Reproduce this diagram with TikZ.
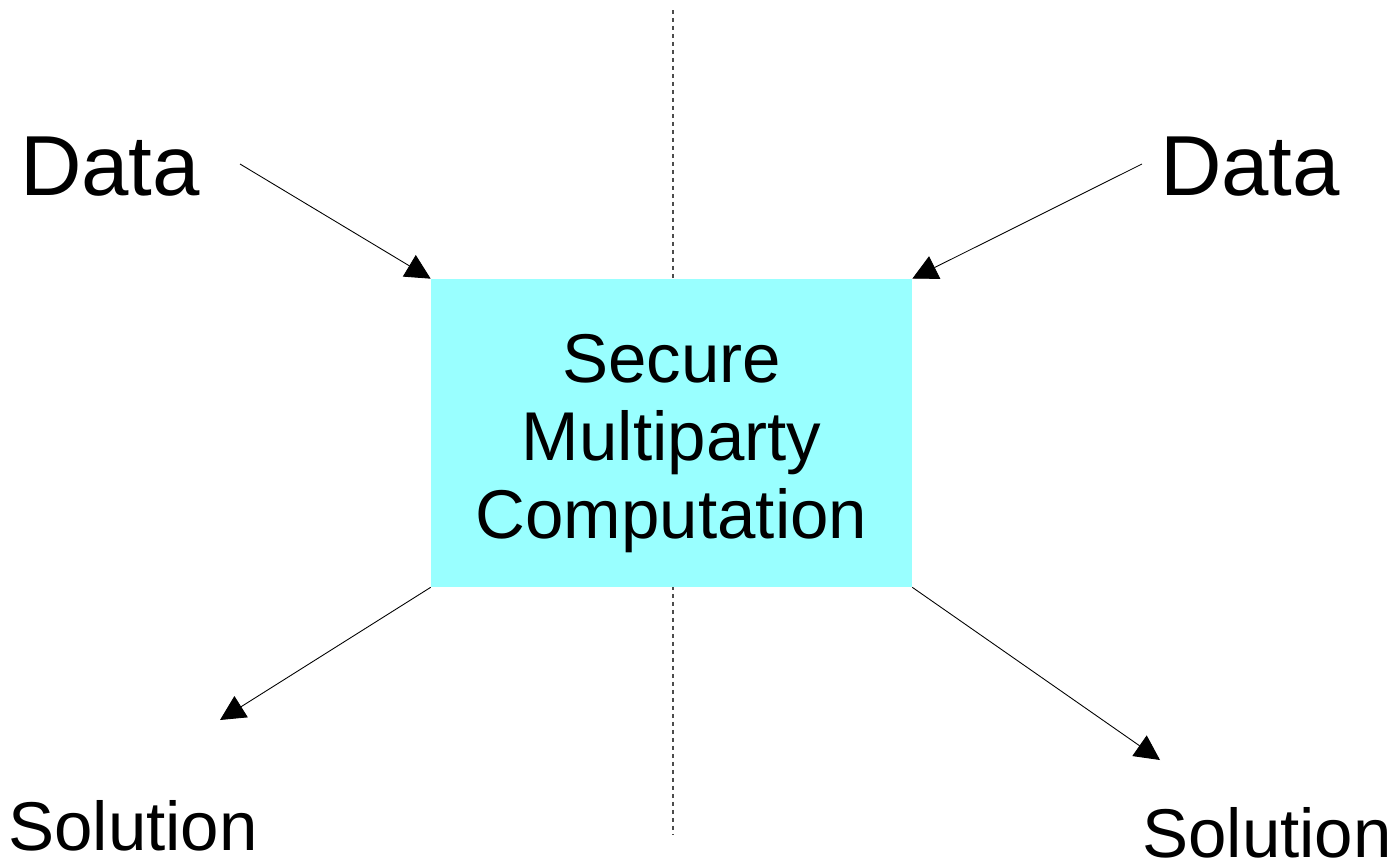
\documentclass[tikz,border=0pt]{standalone}
\usepackage{fontspec}
\setmainfont{Liberation Sans}
\usetikzlibrary{arrows.meta}

\tikzset{
  bigword/.style={font=\fontsize{48.5}{52}\selectfont, inner sep=0pt},
  outword/.style={font=\fontsize{39.3}{44}\selectfont, inner sep=0pt, anchor=base},
  flow/.style={-{Triangle[length=0.5cm,width=0.5cm]}, line width=0.5pt},
}
\definecolor{boxcyan}{HTML}{99FFFF}

\begin{document}
\begin{tikzpicture}[x=0.02cm, y=-0.02cm]
    \useasboundingbox (0,0) rectangle (1397,862);
    % the split between the two parties
    \coordinate (splittop) at (673,10);
    \coordinate (splitbot) at (673,835);
    \draw[gray!60!black, line width=0.6pt, dash pattern=on 0.09cm off 0.07cm] (splittop) -- (splitbot);

    \node[fill=boxcyan, minimum width=9.62cm, minimum height=6.16cm] (smpc) at (671.5,433) {};
    \node[align=center, font=\fontsize{39.3}{44.4}\selectfont] (smpctext)
          at ([yshift=-0.22cm]smpc.center) {Secure\\Multiparty\\Computation};

    \node[bigword, anchor=base] (dataL) at (110,195) {Data};
    \node[bigword, anchor=base] (dataR) at (1250,195) {Data};
    \node[outword] (solL) at (133,850) {Solution};
    \node[outword] (solR) at (1267,857) {Solution};

    % arrow ends away from the box
    \coordinate (inL) at (240,164);
    \coordinate (inR) at (1142,164);
    \coordinate (outL) at (220,720);
    \coordinate (outR) at (1160,760);

    \draw[flow] (inL) -- (smpc.north west);
    \draw[flow] (inR) -- (smpc.north east);
    \draw[flow] (smpc.south west) -- (outL);
    \draw[flow] (smpc.south east) -- (outR);
\end{tikzpicture}
\end{document}
